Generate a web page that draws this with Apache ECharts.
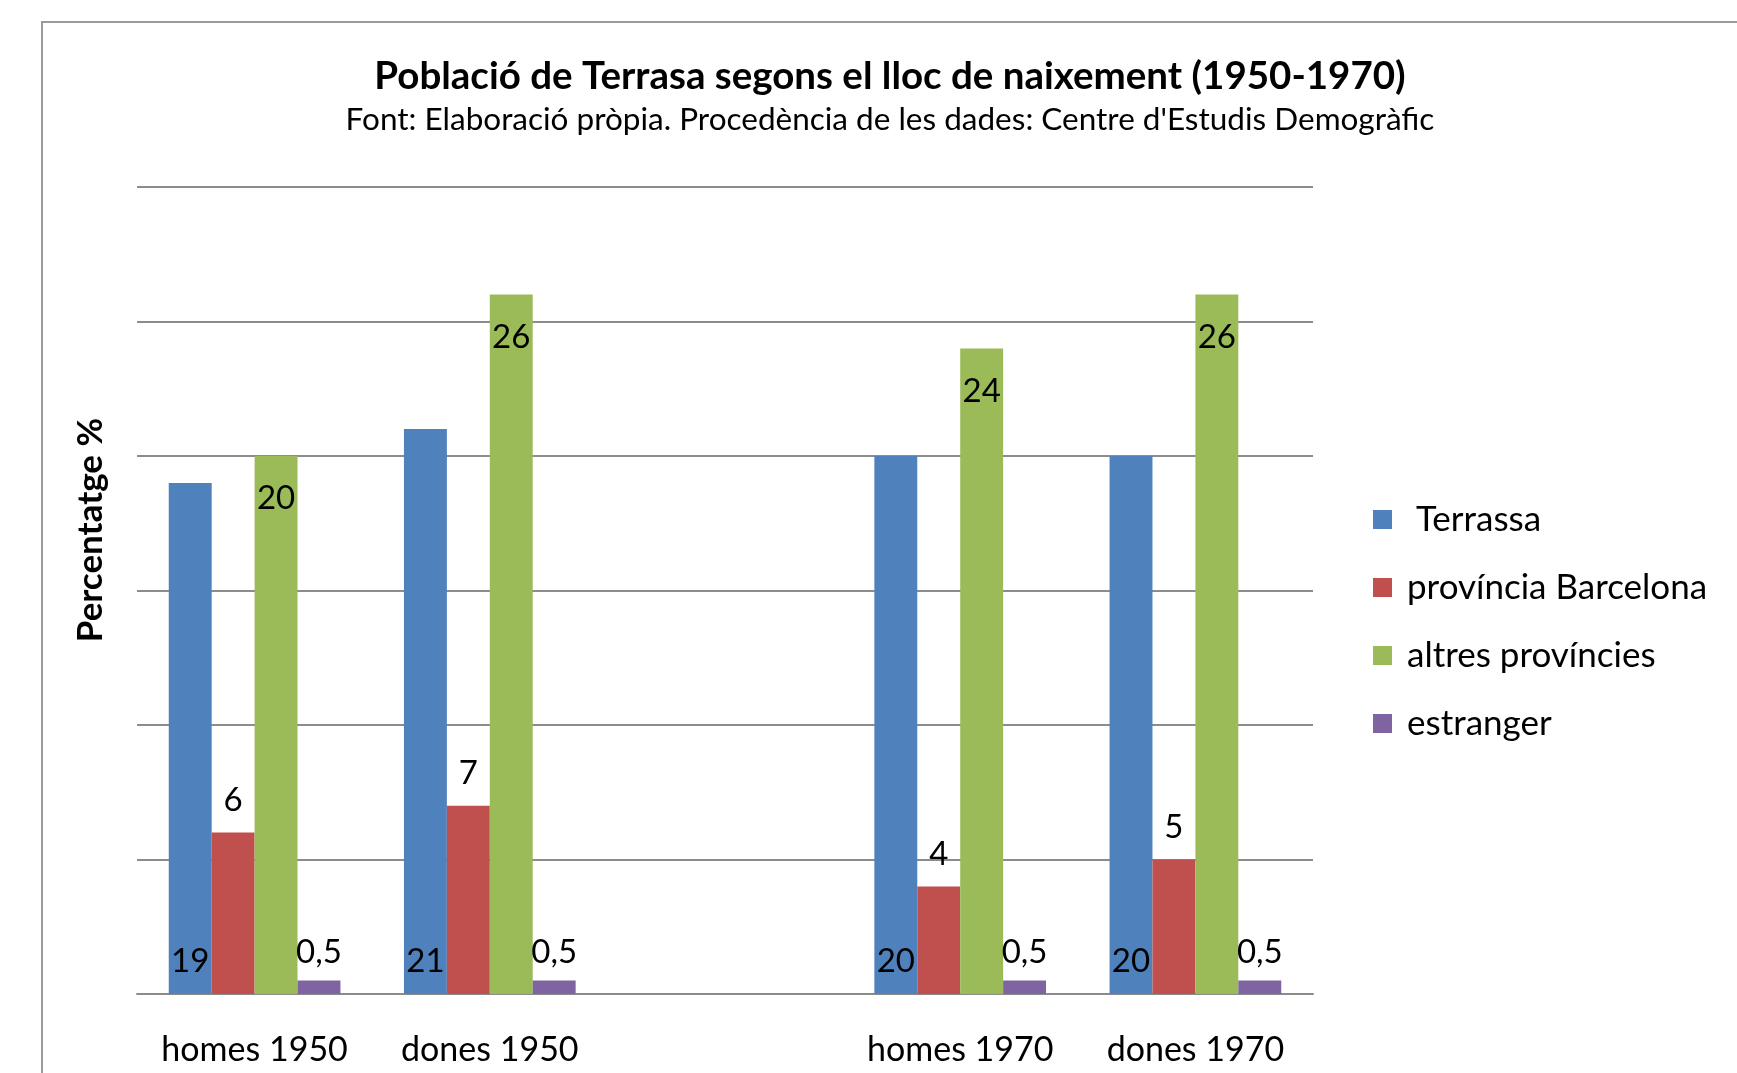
<!DOCTYPE html>
<html>
<head>
<meta charset="utf-8">
<script src="https://cdn.jsdelivr.net/npm/echarts@6/dist/echarts.min.js"></script>
<style>
  html, body { margin: 0; padding: 0; background: #fff; }
  #chart { width: 1737px; height: 1073px; }
</style>
</head>
<body>
<div id="chart"></div>
<script>
// categories (the middle one is an empty slot in the original)
const categories = ["homes 1950", "dones 1950", "", "homes 1970", "dones 1970"];
const terrassa = [19, 21, null, 20, 20];
const provBarcelona = [6, 7, null, 4, 5];
const altresProvincies = [20, 26, null, 24, 26];
const estranger = [0.5, 0.5, null, 0.5, 0.5];
const seriesNames = [" Terrassa", "província Barcelona", "altres províncies", "estranger"];
const colors = ["#4F81BD", "#C0504D", "#9BBB59", "#8064A2"];

const FONT = "Lato, 'Noto Sans', sans-serif";
const fmt = (p) => String(p.value).replace(".", ",");

const labelBase = {
  show: true,
  color: "#000",
  fontFamily: FONT,
  fontSize: 33,
  formatter: fmt,
};

const chart = echarts.init(document.getElementById("chart"));
chart.setOption({
  backgroundColor: "#fff",
  animation: false,
  color: colors,
  title: [
    {
      text: "Població de Terrasa segons el lloc de naixement (1950-1970)",
      left: 890,
      top: 57,
      textAlign: "center",
      padding: 0,
      textStyle: { fontFamily: FONT, fontSize: 38.5, fontWeight: "bold", color: "#000" },
    },
    {
      text: "Font: Elaboració pròpia. Procedència de les dades: Centre d'Estudis Demogràfic",
      left: 890,
      top: 104,
      textAlign: "center",
      padding: 0,
      textStyle: { fontFamily: FONT, fontSize: 31.5, fontWeight: "normal", color: "#000" },
    },
  ],
  legend: {
    orient: "vertical",
    left: 1368,
    top: 497,
    itemWidth: 19,
    itemHeight: 19,
    itemGap: 33,
    icon: "rect",
    data: seriesNames,
    textStyle: {
      fontFamily: FONT,
      fontSize: 35,
      color: "#000",
      lineHeight: 32,
      padding: [0, 0, 0, 10],
    },
  },
  grid: { left: 137, right: 424, top: 187, bottom: 79, containLabel: false },
  xAxis: {
    type: "category",
    data: categories,
    axisTick: { show: false },
    axisLine: { show: true, lineStyle: { color: "#8c8c8c", width: 2 } },
    axisLabel: {
      color: "#000",
      fontFamily: FONT,
      fontSize: 34,
      margin: 39,
      interval: 0,
    },
  },
  yAxis: {
    type: "value",
    min: 0,
    max: 30,
    interval: 5,
    axisLabel: { show: false },
    axisLine: { show: false },
    axisTick: { show: false },
    splitLine: { show: true, lineStyle: { color: "#8c8c8c", width: 2 } },
  },
  graphic: [
    {
      type: "rect",
      shape: { x: 42, y: 22, width: 1760, height: 1100 },
      style: { fill: "none", stroke: "#9a9a9a", lineWidth: 2 },
      silent: true,
      z: -10,
    },
    {
      type: "text",
      x: 91,
      y: 530,
      rotation: Math.PI / 2,
      style: {
        text: "Percentatge %",
        fontFamily: FONT,
        fontSize: 35,
        fontWeight: "bold",
        fill: "#000",
        align: "center",
        verticalAlign: "middle",
      },
    },
  ],
  series: [
    {
      name: seriesNames[0],
      type: "bar",
      data: terrassa,
      barGap: "0%",
      barCategoryGap: "27%",
      label: { ...labelBase, position: "insideBottom", distance: 16 },
    },
    {
      name: seriesNames[1],
      type: "bar",
      data: provBarcelona,
      label: { ...labelBase, position: "top", distance: 16 },
    },
    {
      name: seriesNames[2],
      type: "bar",
      data: altresProvincies,
      label: { ...labelBase, position: "insideTop", distance: 26 },
    },
    {
      name: seriesNames[3],
      type: "bar",
      data: estranger,
      label: { ...labelBase, position: "top", distance: 12 },
    },
  ],
});
</script>
</body>
</html>
